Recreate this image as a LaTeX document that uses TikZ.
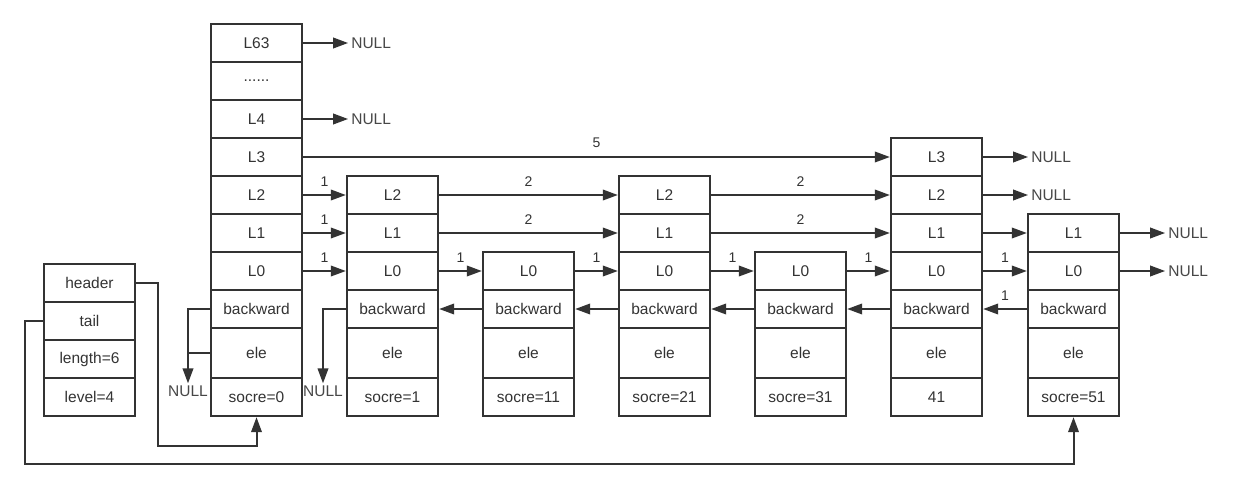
\documentclass[tikz,border=0pt]{standalone}
\usepackage{fontspec}
\setmainfont{Liberation Sans}
\usetikzlibrary{arrows.meta,positioning}
\definecolor{ink}{HTML}{333333}
\tikzset{
  cell/.style={draw=ink, rectangle, line width=2.3pt, minimum width=91pt, minimum height=38pt,
    inner sep=0pt, text=ink, font=\fontsize{15.5}{18}\selectfont},
  tallcell/.style={cell, minimum height=50pt},
  arr/.style={draw=ink, line width=2pt, -{Triangle[length=15pt,width=10.5pt]}},
  wire/.style={draw=ink, line width=2pt},
  num/.style={midway, above=6pt, inner sep=2pt, text=ink, font=\fontsize{14}{16}\selectfont},
  nulltxt/.style={inner sep=3pt, text=ink!90, font=\fontsize{15.5}{18}\selectfont},
}
\begin{document}
\begin{tikzpicture}[x=1pt, y=-1pt]
    \useasboundingbox (0,0) rectangle (1233,490);
    % list struct
    \node[cell] (hd) at (89.5,283) {header};
    \node[cell] (tl) at (89.5,321) {tail};
    \node[cell] (len) at (89.5,359) {length=6};
    \node[cell] (lvl) at (89.5,397) {level=4};

    % header node levels
    \node[cell] (l63c0) at (256.5,43) {L63};
    \node[cell] (dotc0) at (256.5,81) {......};
    \node[cell] (l4c0) at (256.5,119) {L4};
    \node[cell] (l3c0) at (256.5,157) {L3};
    \node[cell] (l3c5) at (936.5,157) {L3};

    % levels of the other nodes
    \foreach \i in {0,1,3,5}
        \node[cell] (l2c\i) at ({256.5+\i*136},195) {L2};
    \foreach \i in {0,1,3,5,6}
        \node[cell] (l1c\i) at ({256.5+\i*136+int(\i/6)},233) {L1};
    \foreach \i in {0,...,6}
        \node[cell] (l0c\i) at ({256.5+\i*136+int(\i/6)},271) {L0};

    % backward, ele, score
    \foreach \i/\s in {0/socre=0, 1/socre=1, 2/socre=11, 3/socre=21, 4/socre=31, 5/41, 6/socre=51} {
        \node[cell] (bwc\i) at ({256.5+\i*136+int(\i/6)},309) {backward};
        \node[tallcell] (elec\i) at ({256.5+\i*136+int(\i/6)},353) {ele};
        \node[cell] (scc\i) at ({256.5+\i*136+int(\i/6)},397) {\s};
    }

    % forward pointers
    \foreach \a/\b in {0/1, 1/2, 2/3, 3/4, 4/5, 5/6}
        \draw[arr] (l0c\a.east) -- node[num] {1} (l0c\b.west);
    \draw[arr] (l1c0.east) -- node[num] {1} (l1c1.west);
    \draw[arr] (l1c1.east) -- node[num] {2} (l1c3.west);
    \draw[arr] (l1c3.east) -- node[num] {2} (l1c5.west);
    \draw[arr] (l1c5.east) -- (l1c6.west);
    \draw[arr] (l2c0.east) -- node[num] {1} (l2c1.west);
    \draw[arr] (l2c1.east) -- node[num] {2} (l2c3.west);
    \draw[arr] (l2c3.east) -- node[num] {2} (l2c5.west);
    \draw[arr] (l3c0.east) -- node[num] {5} (l3c5.west);

    % NULL ends
    \node[nulltxt, right=45pt of l63c0] (n63) {NULL};
    \node[nulltxt, right=45pt of l4c0] (n4) {NULL};
    \node[nulltxt, right=45pt of l3c5] (n3) {NULL};
    \node[nulltxt, right=45pt of l2c5] (n2) {NULL};
    \node[nulltxt, right=45pt of l1c6] (n1) {NULL};
    \node[nulltxt, right=45pt of l0c6] (n0) {NULL};
    \draw[arr] (l63c0.east) -- (n63.west);
    \draw[arr] (l4c0.east) -- (n4.west);
    \draw[arr] (l3c5.east) -- (n3.west);
    \draw[arr] (l2c5.east) -- (n2.west);
    \draw[arr] (l1c6.east) -- (n1.west);
    \draw[arr] (l0c6.east) -- (n0.west);

    % backward pointers
    \foreach \a/\b in {2/1, 3/2, 4/3, 5/4}
        \draw[arr] (bwc\a.west) -- (bwc\b.east);
    \draw[arr] (bwc6.west) -- node[num] {1} (bwc5.east);

    \node[nulltxt] (nb0) at (188,391) {NULL};
    \node[nulltxt] (nb1) at (323,391) {NULL};
    \draw[arr] (bwc0.west) -| ([yshift=-1pt]nb0.north);
    \draw[wire] (elec0.west) -- (elec0.west -| nb0);
    \draw[arr] (bwc1.west) -| ([yshift=-1pt]nb1.north);

    % header and tail
    \coordinate (hdturn) at (158,446);
    \coordinate (tlturn) at (25,464);
    \draw[arr] (hd.east) -| (hdturn) -| (scc0.south);
    \draw[arr] (tl.west) -| (tlturn) -| (scc6.south);
\end{tikzpicture}
\end{document}
